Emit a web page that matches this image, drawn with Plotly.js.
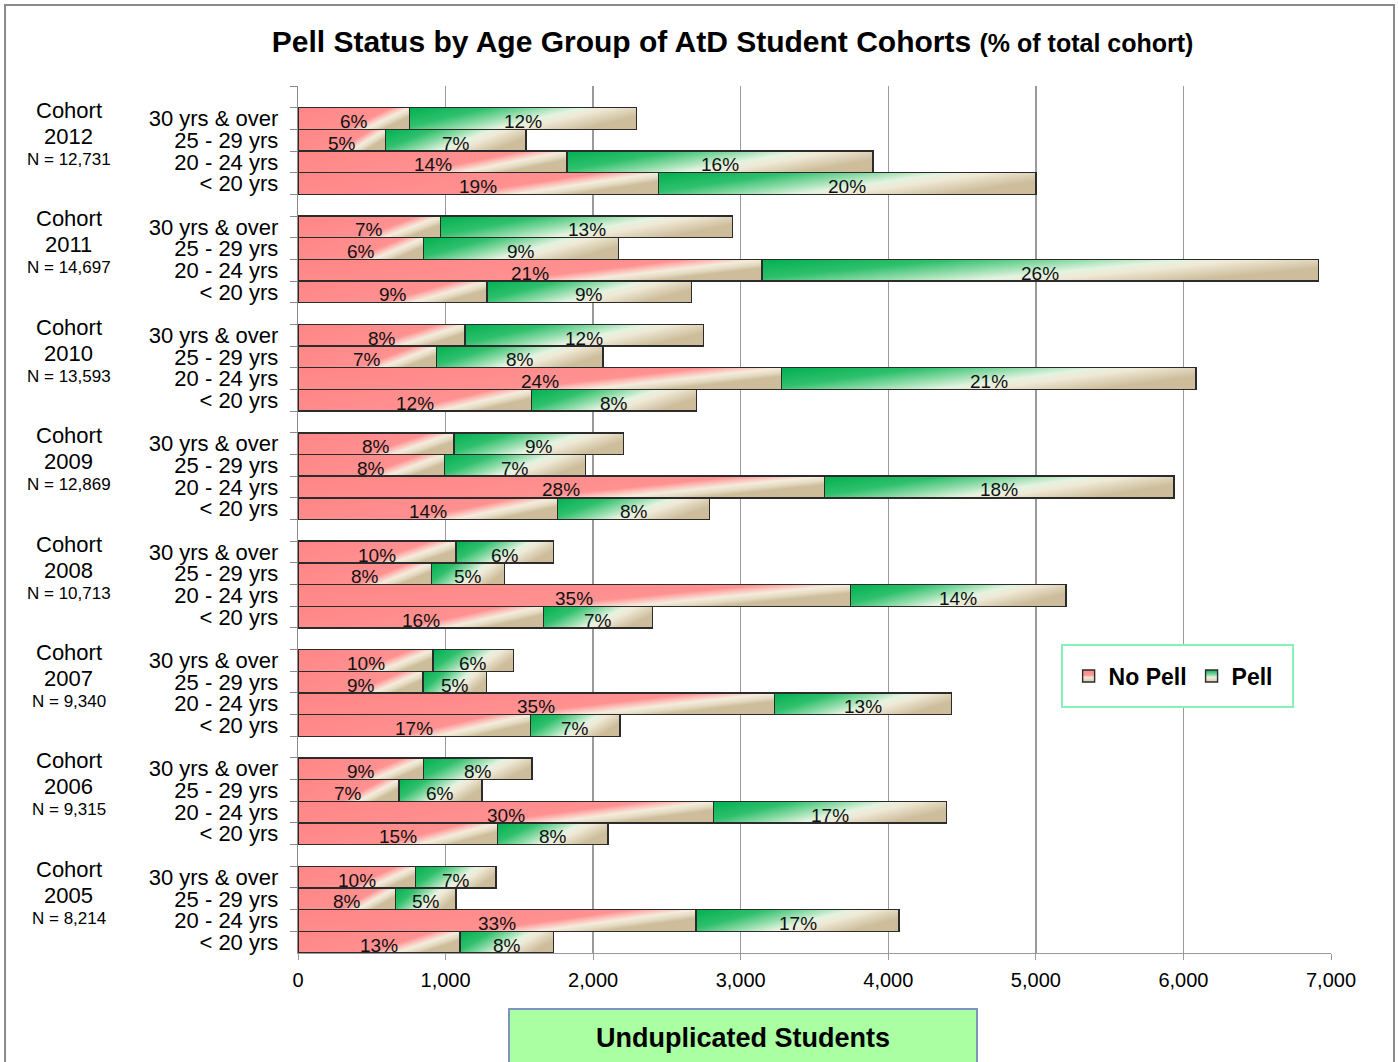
<!DOCTYPE html>
<html>
<head>
<meta charset="utf-8">
<script src="https://cdn.plot.ly/plotly-3.0.1.min.js"></script>
<style>
  html, body { margin: 0; padding: 0; background: #ffffff; }
  #chart { width: 1398px; height: 1062px; }
</style>
</head>
<body>
<div id="chart"></div>
<script>
// Cohorts from newest (top) to oldest (bottom)
const cohorts = ['2012', '2011', '2010', '2009', '2008', '2007', '2006', '2005'];
const cohortN = ['12,731', '14,697', '13,593', '12,869', '10,713', '9,340', '9,315', '8,214'];
const ageGroups = ['30 yrs & over', '25 - 29 yrs', '20 - 24 yrs', '&lt; 20 yrs'];

// Unduplicated students per cohort, in ageGroups order
const noPell = [
  [754, 594, 1823, 2444],
  [967, 852, 3144, 1281],
  [1132, 940, 3278, 1584],
  [1057, 994, 3569, 1760],
  [1071, 903, 3745, 1662],
  [915, 847, 3230, 1574],
  [852, 684, 2817, 1353],
  [798, 659, 2697, 1098]
];
const pell = [
  [1541, 951, 2073, 2557],
  [1979, 1321, 3773, 1385],
  [1617, 1127, 2807, 1118],
  [1147, 956, 2367, 1027],
  [662, 498, 1460, 739],
  [547, 429, 1197, 608],
  [734, 563, 1576, 748],
  [544, 412, 1376, 635]
];

// Share of the whole cohort (%)
const noPellPct = [
  [6, 5, 14, 19],
  [7, 6, 21, 9],
  [8, 7, 24, 12],
  [8, 8, 28, 14],
  [10, 8, 35, 16],
  [10, 9, 35, 17],
  [9, 7, 30, 15],
  [10, 8, 33, 13]
];
const pellPct = [
  [12, 7, 16, 20],
  [13, 9, 26, 9],
  [12, 8, 21, 8],
  [9, 7, 18, 8],
  [6, 5, 14, 7],
  [6, 5, 13, 7],
  [8, 6, 17, 8],
  [7, 5, 17, 8]
];

const FONT = 'Liberation Sans, Arial, sans-serif';
const ZW = '\u200B';

// One category slot per bar, plus an empty slot above each cohort.
// Zero-width spaces keep repeated age labels distinct.
const yCats = [], xNo = [], xPell = [];
const rowCat = [];
cohorts.forEach((c, ci) => {
  yCats.push(ZW.repeat(ci + 1));
  xNo.push(null); xPell.push(null);
  rowCat.push([]);
  ageGroups.forEach((a, ai) => {
    const cat = a + ZW.repeat(ci);
    yCats.push(cat);
    rowCat[ci].push(cat);
    xNo.push(noPell[ci][ai]);
    xPell.push(pell[ci][ai]);
  });
});

const traces = [
  {
    type: 'bar', orientation: 'h', name: 'No Pell',
    x: xNo, y: yCats,
    marker: { color: '#ff8c8c', line: { color: '#2b2b2b', width: 1.4 } },
    hoverinfo: 'x+name'
  },
  {
    type: 'bar', orientation: 'h', name: 'Pell',
    x: xPell, y: yCats,
    marker: { color: '#22b864', line: { color: '#2b2b2b', width: 1.4 } },
    hoverinfo: 'x+name'
  }
];

const annotations = [];

cohorts.forEach((c, ci) => {
  // Percentage labels centred on each bar segment
  ageGroups.forEach((a, ai) => {
    const base = noPell[ci][ai];
    annotations.push({
      x: base / 2, y: rowCat[ci][ai], xref: 'x', yref: 'y',
      text: noPellPct[ci][ai] + '%', showarrow: false,
      yshift: -3, font: { family: FONT, size: 19, color: '#111111' }
    });
    annotations.push({
      x: base + pell[ci][ai] / 2, y: rowCat[ci][ai], xref: 'x', yref: 'y',
      text: pellPct[ci][ai] + '%', showarrow: false,
      yshift: -3, font: { family: FONT, size: 19, color: '#111111' }
    });
  });
  // Cohort name, year and size, stacked beside the group
  const top = rowCat[ci][0];
  const lines = [
    { text: 'Cohort', size: 22, shift: 8 },
    { text: c, size: 22, shift: -18 },
    { text: 'N = ' + cohortN[ci], size: 17, shift: -41 }
  ];
  lines.forEach(l => {
    annotations.push({
      x: -0.2221, xref: 'paper', xanchor: 'center',
      y: top, yref: 'y', yanchor: 'middle', yshift: l.shift,
      text: l.text, showarrow: false,
      font: { family: FONT, size: l.size, color: '#000000' }
    });
  });
});

// Axis title box
annotations.push({
  x: 0.4308, xref: 'paper', xanchor: 'center',
  y: -0.098, yref: 'paper', yanchor: 'middle',
  text: '<b>Unduplicated Students</b>', showarrow: false,
  width: 466, height: 56, borderpad: 0,
  bgcolor: '#aaffa2', bordercolor: '#7f94c0', borderwidth: 2,
  font: { family: FONT, size: 27, color: '#000000' }
});

const layout = {
  width: 1398, height: 1062,
  margin: { l: 298, r: 67, t: 86, b: 109, pad: 0 },
  paper_bgcolor: '#ffffff',
  plot_bgcolor: '#ffffff',
  barmode: 'stack',
  bargap: 0,
  showlegend: true,
  title: {
    text: '<b>Pell Status by Age Group of AtD Student Cohorts <span style="font-size:25px">(% of total cohort)</span></b>',
    x: 0.524, xref: 'container', xanchor: 'center',
    y: 0.9605, yref: 'container', yanchor: 'middle',
    font: { family: FONT, size: 30, color: '#000000' }
  },
  xaxis: {
    range: [0, 7000], dtick: 1000, tick0: 0, tickformat: ',d',
    showgrid: true, gridcolor: '#9a9a9a', gridwidth: 1.3,
    zeroline: false, showline: true, linecolor: '#9a9a9a', linewidth: 1.3,
    ticks: 'outside', ticklen: 6, tickcolor: '#9a9a9a',
    ticklabelstandoff: 3,
    tickfont: { family: FONT, size: 20, color: '#000000' },
    fixedrange: true
  },
  yaxis: {
    type: 'category', categoryorder: 'array', categoryarray: yCats,
    range: [yCats.length - 0.5, -0.5],
    tickmode: 'linear', tick0: 0, dtick: 1,
    tickson: 'boundaries',
    showgrid: false, zeroline: false,
    showline: true, linecolor: '#8a8a8a', linewidth: 1.3,
    ticks: 'outside', ticklen: 7, tickcolor: '#8a8a8a',
    ticklabelstandoff: 14,
    tickfont: { family: FONT, size: 22, color: '#000000' },
    fixedrange: true
  },
  legend: {
    orientation: 'h', traceorder: 'normal',
    x: 0.746, xanchor: 'left',
    y: 0.3195, yanchor: 'middle',
    bgcolor: 'rgba(0,0,0,0)', borderwidth: 0,
    font: { family: FONT, size: 23, color: '#000000', weight: 'bold' }
  },
  shapes: [
    // outer frame
    { type: 'rect', xref: 'paper', yref: 'paper',
      x0: -0.2836, x1: 1.0610, y0: -0.141, y1: 1.0934,
      line: { color: '#8a8a8a', width: 2 }, fillcolor: 'rgba(0,0,0,0)', layer: 'above' },
    // legend box
    { type: 'rect', xref: 'paper', yref: 'paper',
      x0: 0.7396, x1: 0.9632, y0: 0.2837, y1: 0.3552,
      line: { color: '#86f0b8', width: 2 }, fillcolor: '#ffffff', layer: 'above' }
  ],
  annotations: annotations
};

function addGradients(gd) {
  const NS = 'http://www.w3.org/2000/svg';
  const svg = gd.querySelector('svg.main-svg');
  const defs = document.createElementNS(NS, 'defs');
  function grad(id, x2, y2, stops) {
    const g = document.createElementNS(NS, 'linearGradient');
    g.setAttribute('id', id);
    g.setAttribute('x1', '0'); g.setAttribute('y1', '0');
    g.setAttribute('x2', x2); g.setAttribute('y2', y2);
    stops.forEach(([o, c]) => {
      const s = document.createElementNS(NS, 'stop');
      s.setAttribute('offset', o);
      s.setAttribute('stop-color', c);
      g.appendChild(s);
    });
    defs.appendChild(g);
  }
  grad('gradNoPell', '1', '0.4', [
    [0, '#ff8585'], [0.72, '#ff9191'], [0.8, '#fbc6be'], [0.86, '#f4ecdc'],
    [0.93, '#e6dcc4'], [1, '#cdbd9b']
  ]);
  grad('gradPell', '1', '0.4', [
    [0, '#00b050'], [0.3, '#2fc06c'], [0.5, '#90dcaa'], [0.66, '#e4f3e0'],
    [0.76, '#efe9d6'], [1, '#cdbd9b']
  ]);
  grad('gradNoPellKey', '0', '1', [
    [0, '#ff8484'], [0.45, '#ff9c9c'], [0.6, '#f2e8d8'], [1, '#d8cab0']
  ]);
  grad('gradPellKey', '0', '1', [
    [0, '#00b050'], [0.45, '#9adeb2'], [0.6, '#f0eedc'], [1, '#d8cab0']
  ]);
  grad('gradBg', '1', '1', [
    [0, '#ffffff'], [0.4, '#ffffff'], [0.68, '#e4fdee'], [1, '#c6fbdb']
  ]);
  svg.insertBefore(defs, svg.firstChild);

  const fills = ['url(#gradNoPell)', 'url(#gradPell)'];
  gd.querySelectorAll('.barlayer .trace').forEach((t, i) => {
    t.querySelectorAll('path').forEach(p => { p.style.fill = fills[i % 2]; });
  });
  const keyFills = { 'No Pell': 'url(#gradNoPellKey)', 'Pell': 'url(#gradPellKey)' };
  gd.querySelectorAll('.legend .traces').forEach(t => {
    const label = (t.querySelector('.legendtext') || {}).textContent;
    const f = keyFills[label];
    if (f) t.querySelectorAll('.legendpoints path').forEach(p => { p.style.fill = f; });
  });
  const w = gd._fullLayout._size.w;
  gd.querySelectorAll('rect.bg').forEach(r => {
    if (Math.abs(parseFloat(r.getAttribute('width')) - w) < 2) r.style.fill = 'url(#gradBg)';
  });
  // the spacer slots carry no visible label
  gd.querySelectorAll('.ytick text').forEach(t => {
    if (t.textContent.replace(/\u200B/g, '') === '') t.remove();
  });
}

Plotly.newPlot('chart', traces, layout, { displayModeBar: false, staticPlot: true })
  .then(addGradients);
</script>
</body>
</html>
